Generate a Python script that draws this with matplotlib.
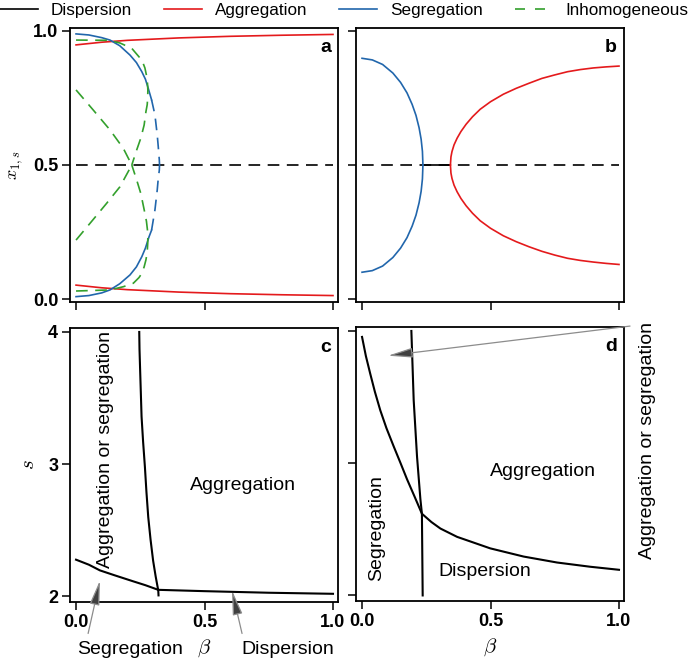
import matplotlib
matplotlib.use('Agg')
import matplotlib.pyplot as plt
from matplotlib.lines import Line2D

plt.rcParams['font.family'] = ['Liberation Sans', 'DejaVu Sans']
plt.rcParams['mathtext.fontset'] = 'cm'

RED, BLUE, GREEN = '#e41a1c', '#2166ac', '#33a02c'

# ---- panel a: equilibria of x_{1,s} vs beta ----
a_agg_x = [0, 0.1, 0.2, 0.4, 0.6, 0.8, 1.0]
a_agg_hi = [0.948, 0.958, 0.965, 0.974, 0.980, 0.984, 0.987]
a_agg_lo = [0.052, 0.042, 0.035, 0.026, 0.020, 0.016, 0.013]

a_seg_hi_x = [0, 0.05, 0.10, 0.132, 0.17, 0.21, 0.235, 0.256, 0.27, 0.281, 0.294]
a_seg_hi_y = [0.989, 0.985, 0.975, 0.966, 0.945, 0.91, 0.882, 0.848, 0.82, 0.786, 0.743]
a_seg_lo_x = [0, 0.05, 0.10, 0.132, 0.17, 0.21, 0.235, 0.256, 0.27, 0.284, 0.294]
a_seg_lo_y = [0.009, 0.013, 0.023, 0.034, 0.057, 0.09, 0.12, 0.158, 0.19, 0.232, 0.257]
a_useg_hi_x = [0.294, 0.307, 0.316, 0.320, 0.324, 0.325]
a_useg_hi_y = [0.743, 0.687, 0.612, 0.568, 0.52, 0.50]
a_useg_lo_x = [0.294, 0.307, 0.316, 0.320, 0.324, 0.325]
a_useg_lo_y = [0.257, 0.332, 0.407, 0.45, 0.48, 0.50]

a_inh1_x = [0, 0.128, 0.171, 0.217, 0.249, 0.26, 0.268, 0.274, 0.278, 0.2795, 0.279, 0.277,
            0.272, 0.265, 0.252, 0.236, 0.217]
a_inh1_y = [0.966, 0.965, 0.955, 0.935, 0.899, 0.882, 0.862, 0.835, 0.805, 0.78, 0.755, 0.725,
            0.699, 0.649, 0.60, 0.556, 0.5]
a_inh2_x = [0, 0.067, 0.132, 0.184, 0.217]
a_inh2_y = [0.78, 0.705, 0.631, 0.562, 0.5]
a_inh3_x = [0, 0.132, 0.184, 0.223, 0.245, 0.256, 0.265, 0.272, 0.277, 0.279, 0.2795, 0.278,
            0.274, 0.268, 0.252, 0.236, 0.217]
a_inh3_y = [0.03, 0.034, 0.046, 0.059, 0.08, 0.096, 0.12, 0.146, 0.175, 0.208, 0.232, 0.257,
            0.29, 0.32, 0.394, 0.444, 0.5]
a_inh4_x = [0, 0.054, 0.119, 0.171, 0.217]
a_inh4_y = [0.22, 0.282, 0.357, 0.419, 0.5]

# ---- panel b ----
b_seg_x = [0, 0.04, 0.08, 0.12, 0.15, 0.175, 0.195, 0.21, 0.222, 0.23, 0.235, 0.237]
b_seg_hi = [0.898, 0.892, 0.875, 0.843, 0.808, 0.769, 0.726, 0.685, 0.639, 0.596, 0.551, 0.5]
b_seg_lo = [0.100, 0.106, 0.123, 0.155, 0.190, 0.229, 0.272, 0.313, 0.359, 0.402, 0.448, 0.5]
b_agg_x = [0.344, 0.346, 0.35, 0.358, 0.37, 0.385, 0.405, 0.43, 0.46, 0.5, 0.55, 0.6, 0.65,
           0.7, 0.75, 0.8, 0.85, 0.9, 0.95, 1.0]
b_agg_hi = [0.5, 0.53, 0.55, 0.575, 0.60, 0.625, 0.652, 0.68, 0.708, 0.736, 0.764, 0.786,
            0.805, 0.823, 0.836, 0.848, 0.856, 0.862, 0.866, 0.869]
b_agg_lo = [0.5, 0.47, 0.45, 0.425, 0.40, 0.375, 0.348, 0.32, 0.292, 0.264, 0.236, 0.214,
            0.195, 0.178, 0.164, 0.152, 0.144, 0.138, 0.133, 0.129]
b_disp_x = [0.237, 0.344]

# ---- panel c: regions in (beta, s) ----
c_seg_x = [0, 0.05, 0.093, 0.15, 0.223, 0.27, 0.32]
c_seg_y = [2.278, 2.24, 2.197, 2.16, 2.114, 2.085, 2.05]
c_disp_x = [0.32, 0.5, 0.75, 1.0]
c_disp_y = [2.05, 2.04, 2.028, 2.02]
c_agg_x = [0.246, 0.247, 0.249, 0.252, 0.255, 0.261, 0.268, 0.274, 0.281, 0.29, 0.30, 0.31,
           0.32, 0.321]
c_agg_y = [4.0, 3.87, 3.74, 3.55, 3.36, 3.17, 2.98, 2.79, 2.60, 2.43, 2.27, 2.15, 2.045, 2.008]

# ---- panel d ----
d_curve_x = [0, 0.015, 0.032, 0.05, 0.071, 0.095, 0.123, 0.15, 0.175, 0.205, 0.233, 0.27,
             0.305, 0.370, 0.499, 0.629, 0.759, 0.888, 1.0]
d_curve_y = [3.955, 3.81, 3.676, 3.54, 3.40, 3.265, 3.128, 3.0, 2.879, 2.745, 2.618, 2.555,
             2.506, 2.443, 2.356, 2.294, 2.249, 2.217, 2.194]
d_vert_x = [0.192, 0.201, 0.214, 0.227, 0.233, 0.236]
d_vert_y = [4.0, 3.477, 3.05, 2.73, 2.618, 2.0]

fig = plt.figure(figsize=(6.97, 6.63), dpi=100)
W, H = 697, 663
def box(l, t, r, b):
    return [l / W, 1 - b / H, (r - l) / W, (b - t) / H]

ax_a = fig.add_axes(box(70, 28, 338, 302))
ax_b = fig.add_axes(box(356, 28, 624, 302))
ax_c = fig.add_axes(box(70, 328, 338, 602))
ax_d = fig.add_axes(box(356, 327, 624, 601))

LW = 1.2
dash = (0, (7, 4.5))
for ax in (ax_a, ax_b, ax_c, ax_d):
    ax.set_xlim(-0.0235, 1.0195)
    ax.set_xticks([0, 0.5, 1.0])
    ax.tick_params(direction='out', length=5.5, width=1.1, pad=3, labelsize=13)
    for sp in ax.spines.values():
        sp.set_linewidth(1.3)

for ax in (ax_a, ax_b):
    ax.set_ylim(-0.011, 1.011)
    ax.set_yticks([0, 0.5, 1.0])
    ax.tick_params(labelbottom=False)
for ax in (ax_c, ax_d):
    ax.set_ylim(1.958, 4.03)
    ax.set_yticks([2, 3, 4])
ax_a.set_yticklabels(['0.0', '0.5', '1.0'], fontweight='bold')
ax_c.set_yticklabels(['2', '3', '4'], fontweight='bold')
ax_c.set_xticklabels(['0.0', '0.5', '1.0'], fontweight='bold')
ax_d.set_xticklabels(['0.0', '0.5', '1.0'], fontweight='bold')
ax_b.tick_params(labelleft=False)
ax_d.tick_params(labelleft=False)

# panel a
ax_a.plot([0, 1], [0.5, 0.5], color='k', lw=LW, ls=dash)
ax_a.plot(a_agg_x, a_agg_hi, color=RED, lw=LW)
ax_a.plot(a_agg_x, a_agg_lo, color=RED, lw=LW)
ax_a.plot(a_seg_hi_x, a_seg_hi_y, color=BLUE, lw=LW)
ax_a.plot(a_seg_lo_x, a_seg_lo_y, color=BLUE, lw=LW)
ax_a.plot(a_useg_hi_x, a_useg_hi_y, color=BLUE, lw=LW, ls=dash)
ax_a.plot(a_useg_lo_x, a_useg_lo_y, color=BLUE, lw=LW, ls=dash)
for xs, ys in [(a_inh1_x, a_inh1_y), (a_inh2_x, a_inh2_y),
               (a_inh3_x, a_inh3_y), (a_inh4_x, a_inh4_y)]:
    ax_a.plot(xs, ys, color=GREEN, lw=LW, ls=dash)

# panel b
ax_b.plot([0, 1], [0.5, 0.5], color='k', lw=LW, ls=dash)
ax_b.plot(b_disp_x, [0.5, 0.5], color='k', lw=LW)
ax_b.plot(b_seg_x, b_seg_hi, color=BLUE, lw=LW)
ax_b.plot(b_seg_x, b_seg_lo, color=BLUE, lw=LW)
ax_b.plot(b_agg_x, b_agg_hi, color=RED, lw=LW)
ax_b.plot(b_agg_x, b_agg_lo, color=RED, lw=LW)

# panel c
ax_c.plot(c_seg_x, c_seg_y, color='k', lw=1.5)
ax_c.plot(c_disp_x, c_disp_y, color='k', lw=1.5)
ax_c.plot(c_agg_x, c_agg_y, color='k', lw=1.5)

# panel d
ax_d.plot(d_curve_x, d_curve_y, color='k', lw=1.5)
ax_d.plot(d_vert_x, d_vert_y, color='k', lw=1.5)

# panel letters
for ax, s in zip((ax_a, ax_b, ax_c, ax_d), 'abcd'):
    ax.text(0.974, 0.96, s, transform=ax.transAxes, ha='right', va='top',
            fontsize=14, fontweight='bold')

# axis labels
ax_a.set_ylabel(r'$x_{1,s}$', fontsize=13, va='center')
ax_a.yaxis.set_label_coords(-0.2, 0.5)
ax_c.set_ylabel(r'$s$', fontsize=15, va='center')
ax_c.yaxis.set_label_coords(-0.155, 0.5)
for ax in (ax_c, ax_d):
    ax.set_xlabel(r'$\beta$', fontsize=15, va='center')
    ax.xaxis.set_label_coords(0.5, -0.168)

# region labels
TS = 14
ax_c.text(0.131, 0.558, 'Aggregation or segregation', transform=ax_c.transAxes,
          rotation=90, ha='center', va='center', fontsize=TS)
ax_c.text(0.646, 0.427, 'Aggregation', transform=ax_c.transAxes,
          ha='center', va='center', fontsize=TS)
ax_c.text(0.224, -0.175, 'Segregation', transform=ax_c.transAxes,
          ha='center', va='center', fontsize=TS)
ax_c.text(0.813, -0.175, 'Dispersion', transform=ax_c.transAxes,
          ha='center', va='center', fontsize=TS)
ax_d.text(0.078, 0.266, 'Segregation', transform=ax_d.transAxes,
          rotation=90, ha='center', va='center', fontsize=TS)
ax_d.text(0.698, 0.471, 'Aggregation', transform=ax_d.transAxes,
          ha='center', va='center', fontsize=TS)
ax_d.text(0.481, 0.109, 'Dispersion', transform=ax_d.transAxes,
          ha='center', va='center', fontsize=TS)
ax_d.text(1.086, 0.584, 'Aggregation or segregation', transform=ax_d.transAxes,
          rotation=90, ha='center', va='center', fontsize=TS)

arrow = dict(arrowstyle='-|>,head_length=1.5,head_width=0.3', mutation_scale=10,
             facecolor='#404040', edgecolor='#8c8c8c', lw=0.9, shrinkA=0, shrinkB=0)
ax_c.annotate('', xy=(0.093, 2.12), xytext=(0.047, 1.72), arrowprops=arrow,
              annotation_clip=False)
ax_c.annotate('', xy=(0.607, 2.045), xytext=(0.646, 1.72), arrowprops=arrow,
              annotation_clip=False)
ax_d.annotate('', xy=(0.101, 3.813), xytext=(1.043, 4.037), arrowprops=arrow,
              annotation_clip=False)

# legend
handles = [Line2D([], [], color='k', lw=LW),
           Line2D([], [], color=RED, lw=LW),
           Line2D([], [], color=BLUE, lw=LW),
           Line2D([], [], color=GREEN, lw=LW, ls=(0, (6, 6)))]
fig.legend(handles, ['Dispersion', 'Aggregation', 'Segregation', 'Inhomogeneous'],
           loc='upper left', bbox_to_anchor=(0.0, 0.995), ncol=4, frameon=False,
           fontsize=12.3, borderaxespad=0, borderpad=0, handlelength=2.2,
           handletextpad=0.75, columnspacing=1.9)

fig.savefig('out.png', dpi=100)
